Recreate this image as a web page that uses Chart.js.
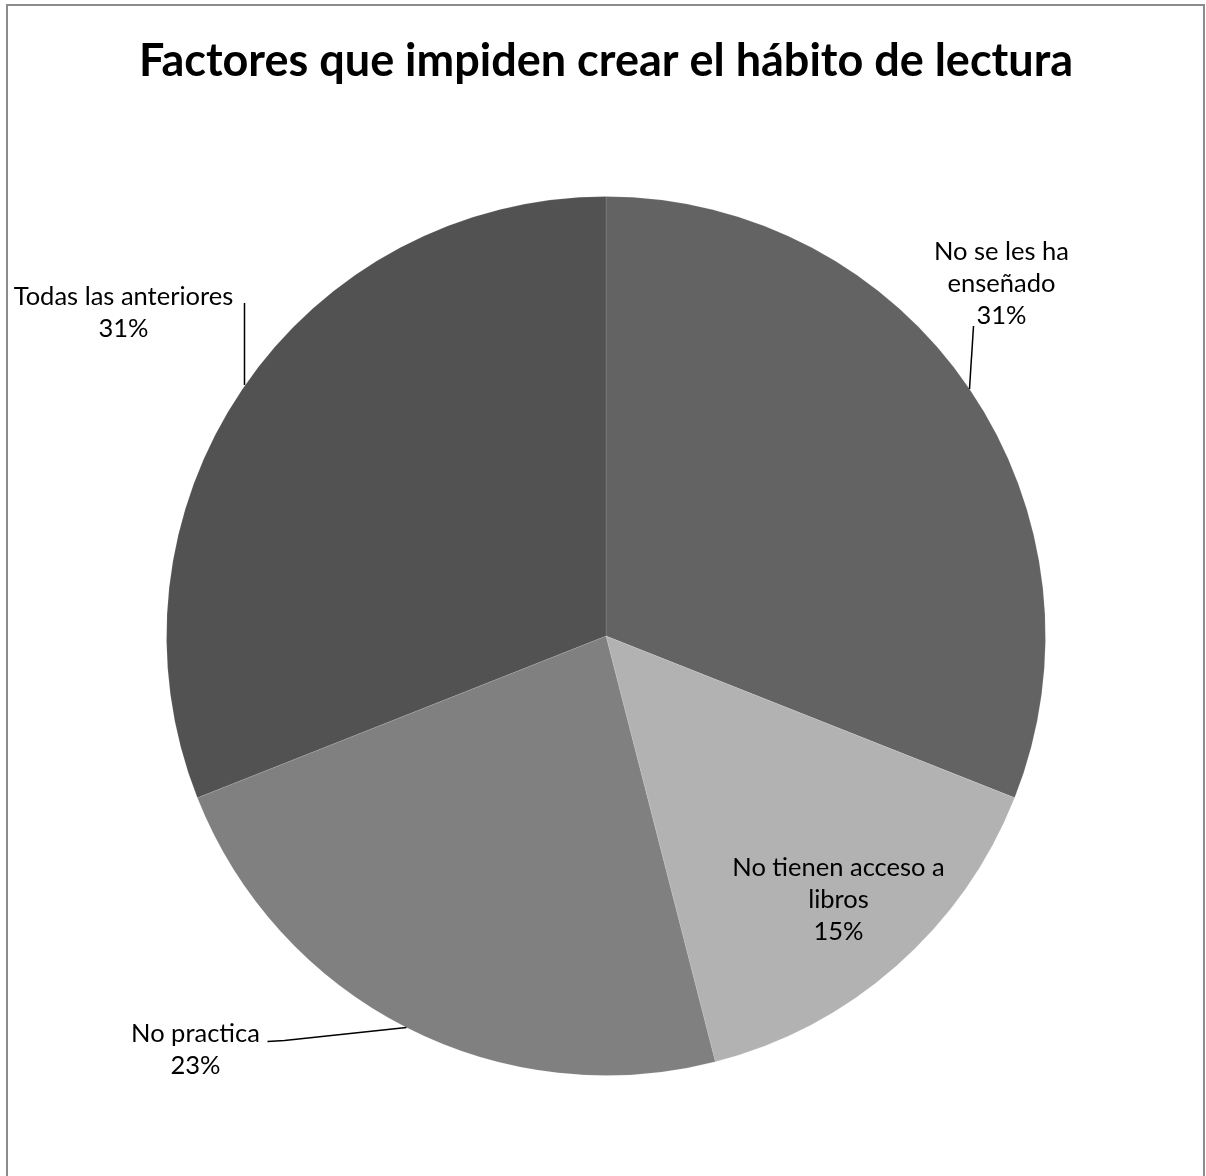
<!DOCTYPE html>
<html>
<head>
<meta charset="utf-8">
<script src="https://cdn.jsdelivr.net/npm/chart.js@4.4.0/dist/chart.umd.min.js"></script>
<style>
  html, body { margin: 0; padding: 0; background: #ffffff; }
  #wrap { width: 1206px; height: 1176px; position: relative; }
</style>
</head>
<body>
<div id="wrap"><canvas id="c" width="1206" height="1176"></canvas></div>
<script>
// ---- data ----
const chartTitle = 'Factores que impiden crear el hábito de lectura';
const categories = ['No se les ha enseñado', 'No tienen acceso a libros', 'No practica', 'Todas las anteriores'];
const labelLines = [['No se les ha', 'enseñado'], ['No tienen acceso a', 'libros'], ['No practica'], ['Todas las anteriores']];
const values = [31, 15, 23, 31];

// ---- styles ----
const sliceColors = ['#636363', '#b2b2b2', '#808080', '#525252'];
const FONT = 'Lato, Carlito, Calibri, "Open Sans", sans-serif';
const labelFontSize = 25.5;
const lineH = 32;
// label placement relative to the slice's outer-edge midpoint (style only)
const placements = [
  { mode: 'outside', cx: 32, firstY: -137, leader: [[0, 0], [4, -63]] },
  { mode: 'inside', frac: 0.8 },
  { mode: 'outside', cx: -211, firstY: 6, leader: [[0, 0], [-122, 13], [-139, 14]] },
  { mode: 'outside', cx: -119, firstY: -92, leader: [[2, -4], [2, -86]] }
];

const total = values.reduce((a, b) => a + b, 0);

const overlay = {
  id: 'overlay',
  afterDraw(chart) {
    const ctx = chart.ctx;
    ctx.save();
    // frame
    ctx.strokeStyle = '#8c8c8c';
    ctx.lineWidth = 2;
    ctx.strokeRect(7, 5, 1197, 1190);
    // title
    ctx.fillStyle = '#000';
    ctx.font = 'bold 45px ' + FONT;
    ctx.textAlign = 'center';
    ctx.textBaseline = 'alphabetic';
    ctx.fillText(chartTitle, 606, 76);

    const meta = chart.getDatasetMeta(0);
    ctx.font = labelFontSize + 'px ' + FONT;
    meta.data.forEach((arc, i) => {
      const p = arc.getProps(['x', 'y', 'startAngle', 'endAngle', 'outerRadius'], true);
      const mid = (p.startAngle + p.endAngle) / 2;
      const pct = Math.round(values[i] / total * 100) + '%';
      const lines = labelLines[i].concat([pct]);
      const pl = placements[i];
      let cx, firstY;
      if (pl.mode === 'inside') {
        const r = p.outerRadius * pl.frac;
        cx = p.x + Math.cos(mid) * r;
        const cy = p.y + Math.sin(mid) * r;
        firstY = cy - (lines.length - 1) * lineH / 2;
      } else {
        const ex = p.x + Math.cos(mid) * p.outerRadius;
        const ey = p.y + Math.sin(mid) * p.outerRadius;
        cx = ex + pl.cx;
        firstY = ey + pl.firstY;
        ctx.strokeStyle = '#000';
        ctx.lineWidth = 1.5;
        ctx.beginPath();
        pl.leader.forEach((pt, k) => {
          if (k === 0) ctx.moveTo(ex + pt[0], ey + pt[1]);
          else ctx.lineTo(ex + pt[0], ey + pt[1]);
        });
        ctx.stroke();
      }
      ctx.fillStyle = '#000';
      ctx.textAlign = 'center';
      ctx.textBaseline = 'middle';
      lines.forEach((t, k) => ctx.fillText(t, cx, firstY + k * lineH));
    });
    ctx.restore();
  }
};

new Chart(document.getElementById('c'), {
  type: 'pie',
  data: {
    labels: categories,
    datasets: [{
      data: values,
      backgroundColor: sliceColors,
      borderColor: 'rgba(255,255,255,0.12)',
      borderWidth: 1
    }]
  },
  options: {
    responsive: false,
    animation: false,
    layout: { padding: { left: 166, right: 160, top: 196, bottom: 100 } },
    plugins: {
      legend: { display: false },
      tooltip: { enabled: false },
      title: { display: false }
    }
  },
  plugins: [overlay]
});
</script>
</body>
</html>
